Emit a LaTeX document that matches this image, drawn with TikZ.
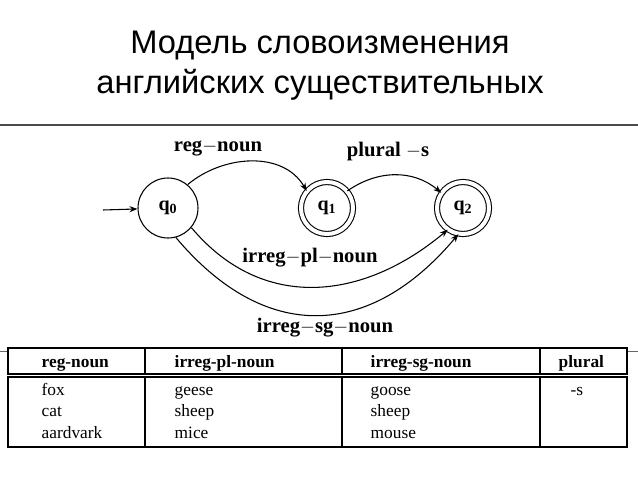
\documentclass[tikz,border=0pt]{standalone}
\usepackage{fontspec}
\setmainfont{Liberation Serif}
\newfontfamily\titlefont{Liberation Sans}
\usetikzlibrary{positioning,arrows.meta}

\begin{document}
\begin{tikzpicture}[x=0.75pt,y=-0.75pt,
    state/.style={circle, draw, thick, minimum size=45pt, inner sep=0pt, font=\bfseries\fontsize{15}{15}\selectfont},
    accept/.style={state, double, double distance=3pt, minimum size=39pt},
    edgelabel/.style={font=\bfseries\fontsize{15.5}{16}\selectfont},
    cell/.style={font=\fontsize{13}{13}\selectfont, anchor=base west},
    headcell/.style={font=\bfseries\fontsize{13}{13}\selectfont, anchor=base west},
    trans/.style={-{Stealth[length=6pt]}, thick}
]
\useasboundingbox (0,0) rectangle (638,479);

% title
\node[font=\titlefont\fontsize{24.5}{30}\selectfont, align=center] (title) at (320,66)
  {Модель словоизменения\\английских существительных};
\draw[line width=1.5pt, black!70] (0,125) -- (638,125);

% automaton
\node[state] (q0) at (168,208) {q$_{\mathbf 0}$};
\node[accept] (q1) at (327,208) {q$_{\mathbf 1}$};
\node[accept] (q2) at (463,208) {q$_{\mathbf 2}$};
\coordinate (start) at (103,210);
\draw[trans] (start) -- (q0);

\draw[trans] (q0.50) to[out=40,in=120] (q1.140);
\draw[trans] (q1.40) to[out=35,in=140] (q2.145);
\draw[trans] (q0.-40) to[out=-50,in=-140,looseness=1.1] (q2.-125);
\draw[trans] (q0.-75) to[out=-50,in=-130,looseness=1.25] (q2.-100);

\node[edgelabel] (lreg) at (218,148) {reg$-$noun};
\node[edgelabel] (lplu) at (388,152) {plural $-$s};
\node[edgelabel] (lpl) at (310,258) {irreg$-$pl$-$noun};
\node[edgelabel] (lsg) at (325,328) {irreg$-$sg$-$noun};

% table
\draw[black!60] (0,351) -- (8,351);
\draw[black!60] (627,351) -- (638,351);
\draw[thick] (8,348) rectangle (627,374);
\draw[thick] (8,377) rectangle (627,447);
\foreach \x in {145,342,540} {
  \draw[thick] (\x,348) -- (\x,374);
  \draw[thick] (\x,377) -- (\x,447);
}
\node[headcell] (h1) at (37,367) {reg-noun};
\node[headcell] (h2) at (170,367) {irreg-pl-noun};
\node[headcell] (h3) at (366,367) {irreg-sg-noun};
\node[headcell] (h4) at (554,367) {plural};
\foreach \a/\b/\c/\y in {fox/geese/goose/395, cat/sheep/sheep/416, aardvark/mice/mouse/438} {
  \node[cell] at (37,\y) {\a};
  \node[cell] at (170,\y) {\b};
  \node[cell] at (366,\y) {\c};
}
\node[cell] (suf) at (566,395) {-s};
\end{tikzpicture}
\end{document}
